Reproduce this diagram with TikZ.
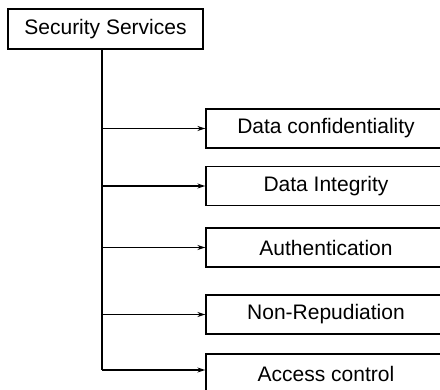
\documentclass[tikz,border=0pt]{standalone}
\usepackage{fontspec}
\setmainfont{Liberation Sans}
\usetikzlibrary{arrows.meta}
\begin{document}
\begin{tikzpicture}[x=1pt,y=-1pt,
  every node/.style={font=\fontsize{21}{25}\selectfont},
  box/.style={draw,line width=1.3pt,rectangle,inner sep=0pt,anchor=center},
  rootbox/.style={box,minimum width=195pt,minimum height=40pt},
  itembox/.style={box,minimum width=240pt,minimum height=39pt},
  link/.style={line width=1.4pt,-{Stealth[length=8pt,width=5pt]}},
  trunkline/.style={line width=1.4pt}]
  \clip (0,0) rectangle (440,390);
  \fill[white] (0,0) rectangle (440,390);
  % root and service boxes
  \node[rootbox] (root) at (105.5,29) {Security Services};
  \node[itembox] (b1) at (326,128.5) {Data confidentiality};
  \node[itembox] (b2) at (326,186) {Data Integrity};
  \node[itembox] (b3) at (326,247.5) {Authentication};
  \node[itembox] (b4) at (326,314.5) {Non-Repudiation};
  \node[itembox] (b5) at (326,373.5) {Access control};
  % trunk
  \coordinate (tend) at (102,370);
  \draw[trunkline] (root.south -| tend) -- (tend);
  % branches
  \draw[link] (tend |- b1.west) -- (b1.west);
  \draw[link] (tend |- b2.west) -- (b2.west);
  \draw[link] (tend |- b3.west) -- (b3.west);
  \draw[link] (tend |- b4.west) -- (b4.west);
  \draw[link] (tend) -- (tend -| b5.west);
\end{tikzpicture}
\end{document}
